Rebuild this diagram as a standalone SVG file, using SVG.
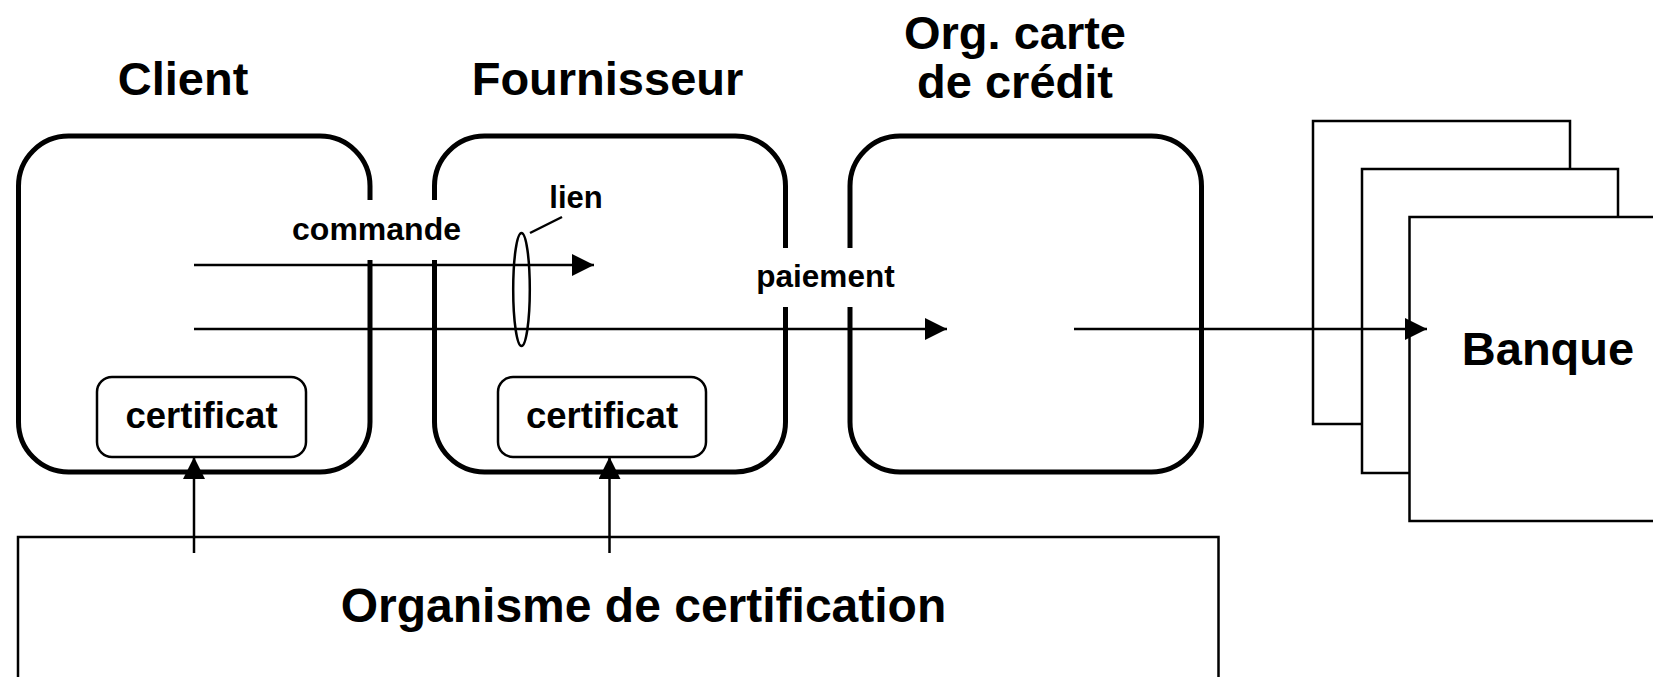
<svg xmlns="http://www.w3.org/2000/svg" width="1653" height="677" viewBox="0 0 1653 677">
  <style>
    text { font-family: "Liberation Sans", Arial, Helvetica, sans-serif; font-weight: bold; fill: #000; text-anchor: middle; }
    .title { font-size: 47px; }
    .label { font-size: 32px; }
    .cert-text { font-size: 36.5px; }
    .party { fill: none; stroke: #000; stroke-width: 5; }
    .cert { fill: #fff; stroke: #000; stroke-width: 2.5; }
    .sheet { fill: #fff; stroke: #000; stroke-width: 2.5; }
    .flow { fill: none; stroke: #000; stroke-width: 2.5; marker-end: url(#arrow); }
    .thin { fill: none; stroke: #000; stroke-width: 2.5; }
  </style>
  <defs>
    <marker id="arrow" markerUnits="userSpaceOnUse" markerWidth="22" markerHeight="22" refX="22" refY="11" orient="auto">
      <path d="M0,0 L22,11 L0,22 z" fill="#000"/>
    </marker>
  </defs>

  <rect width="1653" height="677" fill="#fff"/>

  <!-- Certification authority (extends past the bottom edge) -->
  <g id="organisme">
    <rect x="18" y="537" width="1200.5" height="160" fill="#fff" stroke="#000" stroke-width="2.5"/>
    <text class="title" x="643.5" y="622" style="font-size:48px">Organisme de certification</text>
  </g>

  <!-- Banks: a stack of three sheets -->
  <g id="banque">
    <rect class="sheet" x="1313" y="121" width="257" height="303"/>
    <rect class="sheet" x="1362" y="169" width="256" height="304"/>
    <rect class="sheet" x="1409.5" y="217" width="260" height="304"/>
    <text class="title" x="1548" y="365">Banque</text>
  </g>

  <!-- Client: gap on the right edge for the order flow label -->
  <g id="client">
    <path class="party" d="M370,260 V422 A50,50 0 0 1 320,472 H68.5 A50,50 0 0 1 18.5,422 V186 A50,50 0 0 1 68.5,136 H320 A50,50 0 0 1 370,186 V200"/>
    <text class="title" x="183" y="95">Client</text>
    <g id="client-cert">
      <rect class="cert" x="97" y="377" width="209" height="80" rx="15" ry="15"/>
      <text class="cert-text" x="201.5" y="428">certificat</text>
    </g>
  </g>

  <!-- Supplier: gaps on both side edges -->
  <g id="fournisseur">
    <path class="party" d="M434.5,260 V422 A50,50 0 0 0 484.5,472 H735.5 A50,50 0 0 0 785.5,422 V307 M785.5,248 V186 A50,50 0 0 0 735.5,136 H484.5 A50,50 0 0 0 434.5,186 V200"/>
    <text class="title" x="607.5" y="95">Fournisseur</text>
    <g id="fournisseur-cert">
      <rect class="cert" x="498" y="377" width="208" height="80" rx="15" ry="15"/>
      <text class="cert-text" x="602" y="428">certificat</text>
    </g>
  </g>

  <!-- Credit card organisation: gap on the left edge -->
  <g id="org-carte">
    <path class="party" d="M850,307 V422 A50,50 0 0 0 900,472 H1151.5 A50,50 0 0 0 1201.5,422 V186 A50,50 0 0 0 1151.5,136 H900 A50,50 0 0 0 850,186 V248"/>
    <text class="title" x="1015" y="49">Org. carte</text>
    <text class="title" x="1015" y="98">de crédit</text>
  </g>

  <!-- Flows between parties -->
  <g id="connectors">
    <line class="flow" x1="194" y1="265" x2="594" y2="265"/>
    <line class="flow" x1="194" y1="329" x2="947" y2="329"/>
    <line class="flow" x1="1074" y1="329" x2="1427" y2="329"/>
    <line class="flow" x1="194" y1="553" x2="194" y2="457"/>
    <line class="flow" x1="609.5" y1="553" x2="609.5" y2="457"/>
    <!-- link between the two flows -->
    <ellipse class="thin" cx="521.5" cy="289.5" rx="8.3" ry="56.5"/>
    <line class="thin" x1="530" y1="233" x2="562" y2="217"/>
    <text class="label" x="376.5" y="240">commande</text>
    <text class="label" x="576" y="208" style="font-size:31px">lien</text>
    <text class="label" x="825.5" y="287" style="font-size:31.5px">paiement</text>
  </g>
</svg>
